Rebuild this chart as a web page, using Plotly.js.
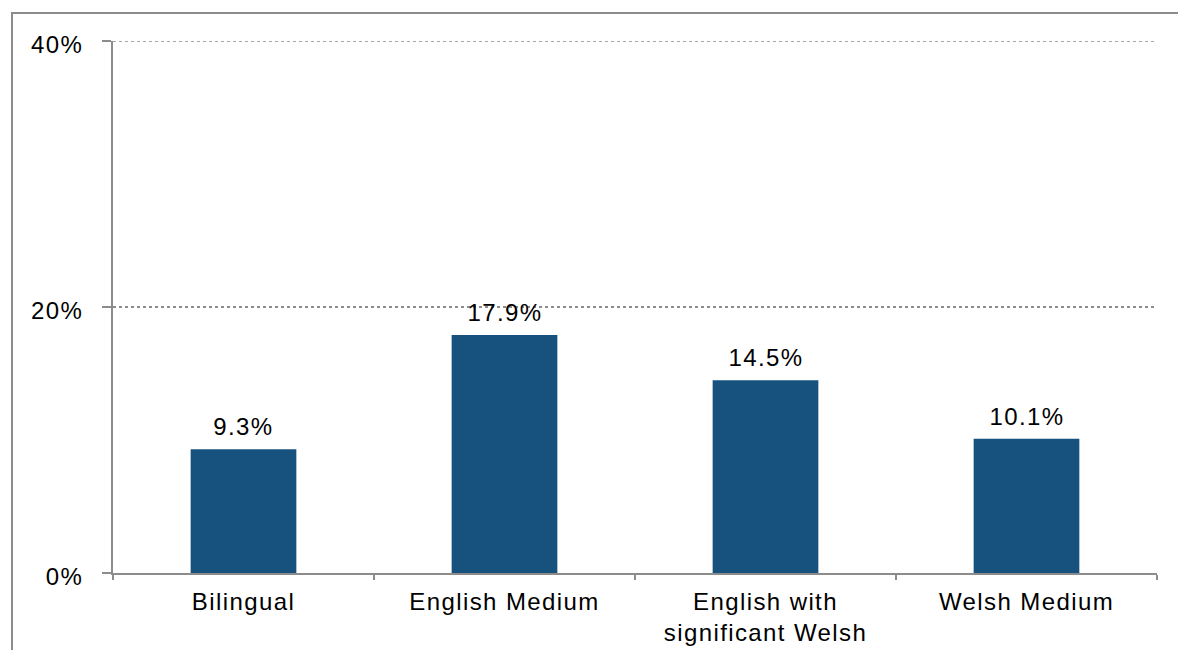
<!DOCTYPE html>
<html>
<head>
<meta charset="utf-8">
<script src="https://cdn.plot.ly/plotly-3.0.1.min.js"></script>
<style>
  html, body { margin: 0; padding: 0; overflow: hidden; background: #fff; }
  #frame { position: absolute; left: 11px; top: 12px; width: 1300px; height: 800px; border: 2px solid #8c8c8c; box-sizing: border-box; }
  #chart { position: absolute; left: 0; top: 0; width: 1178px; height: 650px; }
  #chart svg text { letter-spacing: 1.4px; }
</style>
</head>
<body>
<div id="frame"></div>
<div id="chart"></div>
<script>
const categories = ["Bilingual", "English Medium", "English with<br>significant Welsh", "Welsh Medium"];
const values = [9.3, 17.9, 14.5, 10.1];
const labels = ["9.3%", "17.9%", "14.5%", "10.1%"];
const yTickVals = [0, 20, 40];
const yTickText = ["0%", "20%", "40%"];
const yMax = 40;

const font = { family: "Liberation Sans, Arial, sans-serif", size: 24, color: "#000" };

const annotations = categories.map((c, i) => ({
  x: c, y: values[i], xref: "x", yref: "y",
  text: labels[i], showarrow: false,
  yanchor: "bottom", xanchor: "center",
  yshift: 7, font: font
}));

Plotly.newPlot("chart", [{
  type: "bar",
  x: categories,
  y: values,
  marker: { color: "#17527e" },
  hoverinfo: "skip"
}], {
  width: 1178, height: 650,
  margin: { l: 113, r: 21, t: 41, b: 77, pad: 0 },
  paper_bgcolor: "rgba(0,0,0,0)",
  plot_bgcolor: "rgba(0,0,0,0)",
  bargap: 0.595,
  showlegend: false,
  font: font,
  annotations: annotations,
  shapes: [{
    type: "line", xref: "paper", yref: "y",
    x0: 0, x1: 1, y0: yMax, y1: yMax,
    line: { color: "#8c8c8c", width: 1.5, dash: "dot" },
    layer: "below"
  }],
  xaxis: {
    type: "category",
    tickson: "boundaries",
    ticks: "outside", ticklen: 5, tickwidth: 2, tickcolor: "#8c8c8c",
    showline: true, linecolor: "#8c8c8c", linewidth: 2,
    showgrid: false, zeroline: false,
    tickfont: font,
    ticklabelstandoff: 6,
    automargin: false
  },
  yaxis: {
    range: [0, yMax],
    tickvals: yTickVals, ticktext: yTickText,
    ticks: "outside", ticklen: 9, tickwidth: 2, tickcolor: "#8c8c8c",
    showline: true, linecolor: "#8c8c8c", linewidth: 2,
    showgrid: true, gridcolor: "#8c8c8c", griddash: "dot", gridwidth: 1.5,
    zeroline: false,
    tickfont: font,
    ticklabelstandoff: 14,
    ticklabelshift: 4,
    automargin: false
  }
}, { staticPlot: true, displayModeBar: false });
</script>
</body>
</html>
